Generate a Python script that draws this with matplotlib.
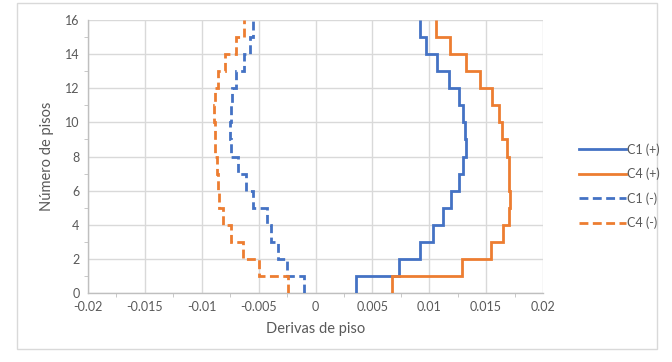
import numpy as np
import matplotlib
matplotlib.use("Agg")
import matplotlib.pyplot as plt
from matplotlib.patches import Rectangle
from matplotlib.ticker import MultipleLocator, FixedLocator

# drift per storey (value applies between floor i and i+1)
floors = np.arange(0, 17)
c1_pos = [0.0036, 0.0073, 0.0092, 0.0103, 0.0112, 0.0119, 0.0126, 0.0130,
          0.0132, 0.0131, 0.0130, 0.0126, 0.0117, 0.0107, 0.0097, 0.0092]
c4_pos = [0.0067, 0.0129, 0.0154, 0.0165, 0.0170, 0.0171, 0.0170, 0.0170,
          0.0168, 0.0164, 0.0161, 0.0155, 0.0145, 0.0132, 0.0118, 0.0106]
c1_neg = [-0.0010, -0.0025, -0.0033, -0.0039, -0.0043, -0.0055, -0.0061, -0.0068,
          -0.0074, -0.0075, -0.0074, -0.0073, -0.0070, -0.0063, -0.0058, -0.0055]
c4_neg = [-0.0024, -0.0050, -0.0064, -0.0074, -0.0081, -0.0085, -0.0086, -0.0087,
          -0.0088, -0.0088, -0.0089, -0.0088, -0.0086, -0.0080, -0.0070, -0.0063]
labels = ['C1 (+)', 'C4 (+)', 'C1 (-)', 'C4 (-)']

BLUE = '#4472C4'
ORANGE = '#ED7D31'
TXT = '#595959'
GRID = '#d9d9d9'

plt.rcParams['font.family'] = ['Lato', 'DejaVu Sans']

fig = plt.figure(figsize=(6.72, 3.62), dpi=100)
fig.patches.append(Rectangle((17 / 672, 1 - 349 / 362), 640 / 672, 346 / 362,
                             transform=fig.transFigure, fill=False,
                             edgecolor='#d9d9d9', lw=1))
ax = fig.add_axes([88 / 672, 1 - 293 / 362, 455 / 672, 273 / 362])

series = [(c1_pos, BLUE, '-'), (c4_pos, ORANGE, '-'),
          (c1_neg, BLUE, '--'), (c4_neg, ORANGE, '--')]
handles = []
for (vals, col, ls), lab in zip(series, labels):
    sp = ax.stairs(vals, floors, orientation='horizontal', baseline=None,
                   color=col, lw=2.0, linestyle=ls, label=lab, zorder=3)
    if ls == '--':
        sp.set_linestyle((0, (3.2, 1.6)))
    h, = ax.plot([], [], color=col, lw=2.0, linestyle=sp.get_linestyle())
    if ls == '--':
        h.set_dashes((3.2, 1.6))
    handles.append(h)

ax.set_xlim(-0.02, 0.02)
ax.set_ylim(0, 16)
ax.xaxis.set_major_locator(MultipleLocator(0.005))
ax.xaxis.set_minor_locator(MultipleLocator(0.0025))
ax.yaxis.set_major_locator(MultipleLocator(2))
ax.yaxis.set_minor_locator(MultipleLocator(1))
ax.set_xticks(np.arange(-0.02, 0.0201, 0.005))
ax.set_xticklabels(['-0.02', '-0.015', '-0.01', '-0.005', '0',
                    '0.005', '0.01', '0.015', '0.02'])

ax.grid(True, which='major', color=GRID, lw=1, zorder=0)
ax.set_axisbelow(True)
for s in ['top', 'right']:
    ax.spines[s].set_visible(False)
for s in ['left', 'bottom']:
    ax.spines[s].set_color('#bfbfbf')
    ax.spines[s].set_linewidth(1)

ax.tick_params(which='major', length=0, labelsize=9, labelcolor=TXT, pad=6)
ax.tick_params(which='minor', length=3, color='#bfbfbf', direction='out')

ax.set_xlabel('Derivas de piso', fontsize=10.5, color=TXT, labelpad=6)
ax.set_ylabel('Número de pisos', fontsize=10.5, color=TXT, labelpad=8)

leg = fig.legend(handles, labels, loc='upper left',
                 bbox_to_anchor=(568 / 672, 1 - 132 / 362),
                 frameon=False, fontsize=9, handlelength=3.7,
                 handletextpad=0.15, labelspacing=0.95, labelcolor=TXT)

fig.savefig('out.png', dpi=100)
